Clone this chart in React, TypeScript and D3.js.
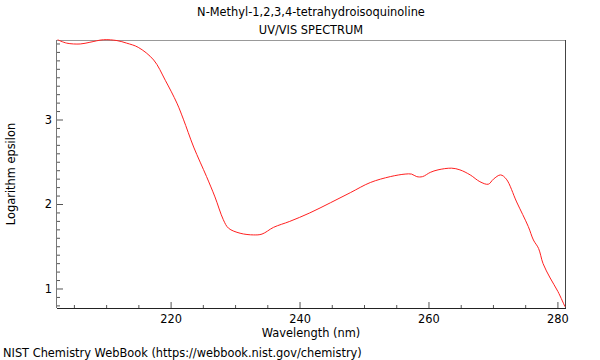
import { useEffect, useRef } from 'react'
import * as d3 from 'd3'

// spectrum
const wavelength = [
  202.4, 203.8, 205.9, 207.4, 209.5, 211.6, 213.1, 214.9, 217.3, 219.1,
  220.9, 221.9, 223.5, 225.5, 226.8, 228.1, 228.9, 230.7, 232.8, 234.1,
  235.9, 238.4, 241.5, 244.7, 247.8, 250.9, 254.0, 256.3, 257.3, 258.1,
  259.0, 260.2, 261.4, 263.5, 264.8, 266.4, 267.9, 269.2, 270.0, 271.1,
  272.0, 273.6, 275.4, 276.2, 277.0, 277.7, 278.8, 280.0, 281.1,
]
const logEps = [
  3.95, 3.91, 3.90, 3.92, 3.95, 3.94, 3.91, 3.86, 3.71, 3.47,
  3.20, 3.01, 2.68, 2.33, 2.09, 1.82, 1.72, 1.66, 1.64, 1.65,
  1.73, 1.80, 1.90, 2.02, 2.14, 2.26, 2.33, 2.36, 2.36, 2.33,
  2.33, 2.38, 2.41, 2.43, 2.41, 2.35, 2.27, 2.24, 2.30, 2.35,
  2.30, 2.03, 1.74, 1.58, 1.48, 1.30, 1.13, 0.97, 0.79,
]

const xMajor = [220, 240, 260, 280]
const yMajor = [1, 2, 3]

const title = ['N-Methyl-1,2,3,4-tetrahydroisoquinoline', 'UV/VIS SPECTRUM']
const font = 'DejaVu Sans, sans-serif'
const fs = 11.4

export default function App() {
  const svgRef = useRef<SVGSVGElement>(null)

  useEffect(() => {
    if (!svgRef.current) return
    const W = 600
    const H = 360
    const margin = { top: 40, right: 35, bottom: 52, left: 57 }
    const iw = W - margin.left - margin.right
    const ih = H - margin.top - margin.bottom

    const svg = d3.select(svgRef.current)
    svg.selectAll('*').remove()

    const x = d3.scaleLinear().domain([202.3, 281.1]).range([0, iw])
    const y = d3.scaleLinear().domain([0.775, 3.947]).range([ih, 0])

    const g = svg.append('g').attr('transform', `translate(${margin.left},${margin.top})`)

    // title
    title.forEach((t, i) => {
      svg.append('text')
        .attr('x', margin.left + iw / 2).attr('y', 16 + i * 18)
        .attr('text-anchor', 'middle')
        .attr('font-family', font).attr('font-size', fs)
        .text(t)
    })

    // ticks, pointing inward
    const xMinor = d3.range(205, 281, 5)
    xMinor.forEach(v => {
      const major = xMajor.includes(v)
      g.append('line')
        .attr('x1', x(v)).attr('x2', x(v))
        .attr('y1', ih).attr('y2', ih - (major ? 6 : 3))
        .attr('stroke', '#555')
    })
    xMajor.forEach(v => {
      g.append('text')
        .attr('x', x(v)).attr('y', ih + 15)
        .attr('text-anchor', 'middle')
        .attr('font-family', font).attr('font-size', fs)
        .text(v)
    })

    const yMinor = d3.range(8, 40).map(d => d / 10)
    yMinor.forEach(v => {
      const major = Math.abs(v - Math.round(v)) < 1e-6
      g.append('line')
        .attr('x1', 0).attr('x2', major ? 6 : 3)
        .attr('y1', y(v)).attr('y2', y(v))
        .attr('stroke', '#555')
    })
    yMajor.forEach(v => {
      g.append('text')
        .attr('x', -5).attr('y', y(v))
        .attr('dy', '0.35em')
        .attr('text-anchor', 'end')
        .attr('font-family', font).attr('font-size', fs)
        .text(v)
    })

    // frame
    g.append('line').attr('x1', 0).attr('x2', iw).attr('y1', 0.5).attr('y2', 0.5).attr('stroke', '#999')
    g.append('line').attr('x1', iw + 0.5).attr('x2', iw + 0.5).attr('y1', 0).attr('y2', ih).attr('stroke', '#444')
    g.append('line').attr('x1', -0.5).attr('x2', -0.5).attr('y1', 0).attr('y2', ih).attr('stroke', '#777')
    g.append('line').attr('x1', 0).attr('x2', iw + 1).attr('y1', ih + 0.5).attr('y2', ih + 0.5).attr('stroke', '#222')

    // spectrum
    const pts: [number, number][] = wavelength.map((w, i) => [w, logEps[i]])
    const line = d3.line<[number, number]>()
      .x(d => x(d[0]))
      .y(d => y(d[1]))
      .curve(d3.curveCatmullRom)

    g.append('path')
      .datum(pts)
      .attr('d', line)
      .attr('fill', 'none')
      .attr('stroke', '#ff2020')
      .attr('stroke-width', 1)

    // axis labels
    svg.append('text')
      .attr('x', margin.left + iw / 2).attr('y', 337)
      .attr('text-anchor', 'middle')
      .attr('font-family', font).attr('font-size', fs)
      .text('Wavelength (nm)')

    svg.append('text')
      .attr('transform', `translate(15,${margin.top + ih / 2}) rotate(-90)`)
      .attr('text-anchor', 'middle')
      .attr('font-family', font).attr('font-size', fs)
      .text('Logarithm epsilon')

    svg.append('text')
      .attr('x', 3).attr('y', 357)
      .attr('font-family', font).attr('font-size', fs)
      .text('NIST Chemistry WebBook (https://webbook.nist.gov/chemistry)')
  }, [])

  return (
    <svg
      ref={svgRef}
      width={600}
      height={360}
      style={{ position: 'absolute', left: 0, top: 0, background: '#fff', display: 'block' }}
    />
  )
}
